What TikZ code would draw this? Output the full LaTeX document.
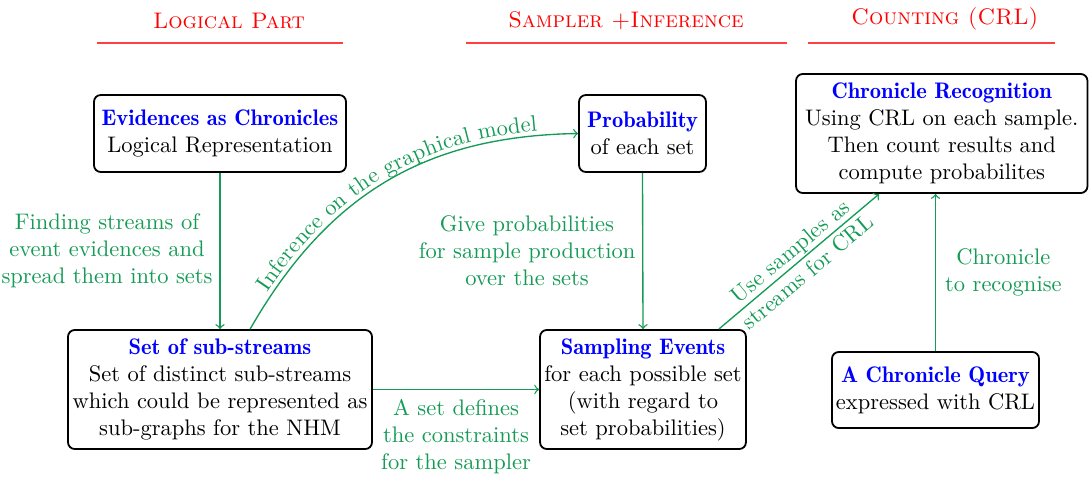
\documentclass[tikz,border=0pt]{standalone}
\usetikzlibrary{decorations.text,calc}
\definecolor{arrgreen}{RGB}{20,155,85}
\tikzset{
  box/.style={draw=black, line width=0.8pt, rounded corners=3pt, align=center, inner sep=0.5pt},
  conn/.style={draw=arrgreen, line width=0.6pt, ->},
  lab/.style={text=arrgreen, align=center, inner sep=1pt},
  head/.style={text=red, font=\scshape},
  headline/.style={draw=red!75, line width=0.5pt}
}
\newcommand{\bt}[1]{\textcolor{blue}{\fontseries{b}\selectfont #1}}
\begin{document}
\begin{tikzpicture}[x=0.4444pt,y=-0.4444pt]
\useasboundingbox (0,0) rectangle (1089,478);
% headers
\node[head] (h1) at (229,21) {Logical Part};
\node[head] (h2) at (626,21) {Sampler +Inference};
\node[head] (h3) at (945,19) {Counting (CRL)};
\draw[headline] (97,43) -- (343,43);
\draw[headline] (466,43) -- (787,43);
\draw[headline] (808,43) -- (1055,43);
% boxes
\node[box, minimum width=112pt, minimum height=34.2pt] (ev) at (220,133.5) {\bt{Evidences as Chronicles}\\Logical Representation};
\node[box, minimum width=56.4pt, minimum height=34.2pt] (pr) at (642.5,133.5) {\bt{Probability}\\of each set};
\node[box, minimum width=129.5pt, minimum height=52.9pt] (cr) at (941.75,133.5) {\bt{Chronicle Recognition}\\Using CRL on each sample.\\Then count results and\\compute probabilites};
\node[box, minimum width=135.1pt, minimum height=52.9pt] (ss) at (220,389.5) {\bt{Set of sub-streams}\\Set of distinct sub-streams\\which could be represented as\\sub-graphs for the NHM};
\node[box, minimum width=91.5pt, minimum height=52.9pt] (se) at (643,389.5) {\bt{Sampling Events}\\for each possible set\\(with regard to\\set probabilities)};
\node[box, minimum width=92pt, minimum height=33.8pt] (cq) at (935.5,390) {\bt{A Chronicle Query}\\expressed with CRL};
% connectors
\draw[conn] (ev.south) -- node[lab, midway, left=2pt] {Finding streams of\\event evidences and\\spread them into sets} (ss.north);
\draw[conn, postaction={decorate,
  decoration={text along path, text align=center, raise=2pt,
  text={|\color{arrgreen}|Inference on the graphical model}}}]
  ($(ss.north west)+(183,0)$) .. controls (330,190) and (430,136) .. (pr.west);
\draw[conn] (pr.south) -- node[lab, midway, left=2pt] {Give probabilities\\for sample production\\over the sets} (se.north);
\draw[conn] (ss.east) -- node[lab, midway, below=3pt] {A set defines\\the constraints\\for the sampler} (se.west);
\draw[conn] ($(se.north east)+(-28,0)$) -- node[lab, midway, sloped] {Use samples as\\streams for CRL} ($(cr.south west)+(84,0)$);
\draw[conn] (cq.north) -- node[lab, midway, right=3pt] {Chronicle\\to recognise} (cq.north |- cr.south);
\end{tikzpicture}
\end{document}
